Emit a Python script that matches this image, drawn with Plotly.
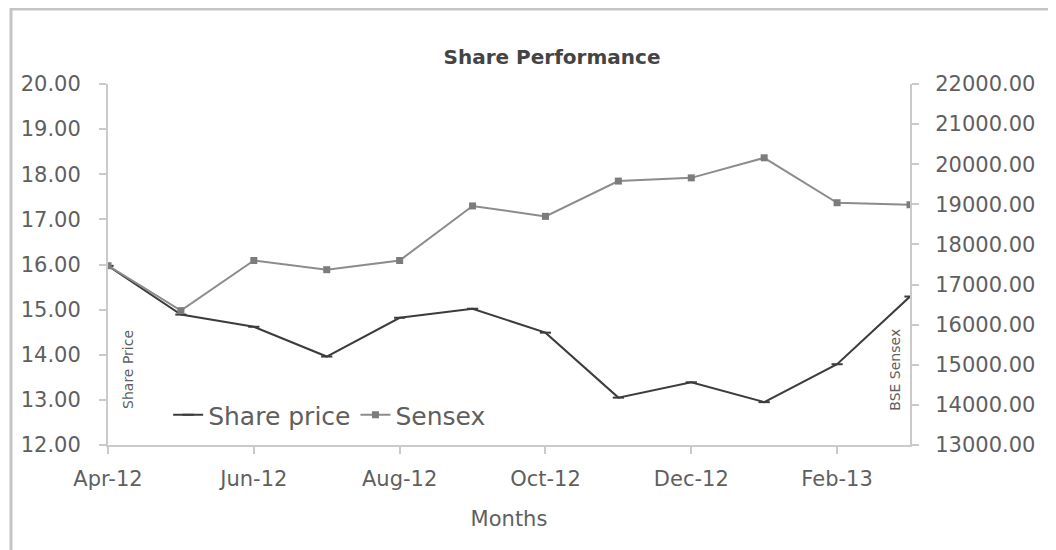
import plotly.graph_objects as go

months = ["Apr-12", "May-12", "Jun-12", "Jul-12", "Aug-12", "Sep-12",
          "Oct-12", "Nov-12", "Dec-12", "Jan-13", "Feb-13", "Mar-13"]
share_price = [15.97, 14.89, 14.62, 13.96, 14.82, 15.02,
               14.49, 13.05, 13.39, 12.95, 13.79, 15.29]
sensex = [17470, 16350, 17600, 17370, 17600, 18960,
          18700, 19580, 19660, 20160, 19040, 18990]
left_ticks = [12, 13, 14, 15, 16, 17, 18, 19, 20]
right_ticks = [13000, 14000, 15000, 16000, 17000, 18000, 19000, 20000, 21000, 22000]

TXT = "#5f5f5f"
AX = "#cacaca"
FONT = "DejaVu Sans"

# plot area in figure pixels
L, R, T, B = 100, 902, 76, 437
PW, PH = R - L, B - T

fig = go.Figure()
fig.add_trace(go.Scatter(
    x=months, y=share_price, name="Share price", mode="lines+markers",
    line=dict(color="#3c3c3c", width=2),
    marker=dict(symbol="line-ew-open", size=8, line=dict(color="#3c3c3c", width=2)),
))
fig.add_trace(go.Scatter(
    x=months, y=sensex, name="Sensex", mode="lines+markers", yaxis="y2",
    line=dict(color="#8c8c8c", width=2),
    marker=dict(symbol="square", size=7, color="#7c7c7c"),
))

fig.update_layout(
    width=1056, height=550,
    margin=dict(l=L, r=1056 - R, t=T, b=550 - B),
    paper_bgcolor="white", plot_bgcolor="white",
    font=dict(family=FONT, color=TXT, size=20),
    title=dict(text="<b>Share Performance</b>", x=544 / 1056, xanchor="center",
               y=1 - 49 / 550, yanchor="middle",
               font=dict(family=FONT, size=20, color="#444444")),
    xaxis=dict(
        type="category", range=[0, 11],
        tickvals=months[::2], ticktext=months[::2],
        showline=True, linecolor=AX, linewidth=2,
        ticks="outside", ticklen=7, tickcolor=AX, tickwidth=2,
        ticklabelstandoff=7,
        showgrid=False, zeroline=False,
        tickfont=dict(family=FONT, size=21, color=TXT),
        title=dict(text="Months", standoff=21,
                   font=dict(family=FONT, size=21, color=TXT)),
    ),
    yaxis=dict(
        range=[12, 20], tickvals=left_ticks,
        ticktext=[f"{v:.2f}" for v in left_ticks],
        showline=True, linecolor=AX, linewidth=2,
        ticks="outside", ticklen=7, tickcolor=AX, tickwidth=2,
        ticklabelstandoff=14,
        showgrid=False, zeroline=False,
        tickfont=dict(family=FONT, size=21, color=TXT),
    ),
    yaxis2=dict(
        range=[13000, 22000], tickvals=right_ticks,
        ticktext=[f"{v:.2f}" for v in right_ticks],
        overlaying="y", side="right",
        showline=True, linecolor=AX, linewidth=2,
        ticks="outside", ticklen=7, tickcolor=AX, tickwidth=2,
        ticklabelstandoff=12,
        showgrid=False, zeroline=False,
        tickfont=dict(family=FONT, size=21, color=TXT),
    ),
    legend=dict(
        orientation="h", x=0.075, y=0.083, xanchor="left", yanchor="middle",
        bgcolor="rgba(0,0,0,0)", font=dict(family=FONT, size=25, color=TXT),
        itemwidth=30,
    ),
    showlegend=True,
)

fig.add_annotation(text="Share Price", x=0.025, y=0.208, xref="paper", yref="paper",
                   textangle=-90, showarrow=False,
                   font=dict(family=FONT, size=14, color=TXT), xanchor="center", yanchor="middle")
fig.add_annotation(text="BSE Sensex", x=0.981, y=0.208, xref="paper", yref="paper",
                   textangle=-90, showarrow=False,
                   font=dict(family=FONT, size=14, color=TXT), xanchor="center", yanchor="middle")

# outer chart border
fig.add_shape(type="rect", xref="paper", yref="paper",
              x0=(3 - L) / PW, x1=(1070 - L) / PW,
              y0=-(560 - B) / PH, y1=1 + (T - 1) / PH,
              line=dict(color="#c4c4c4", width=3), fillcolor="rgba(0,0,0,0)", layer="below")

fig.write_html("out.html")
